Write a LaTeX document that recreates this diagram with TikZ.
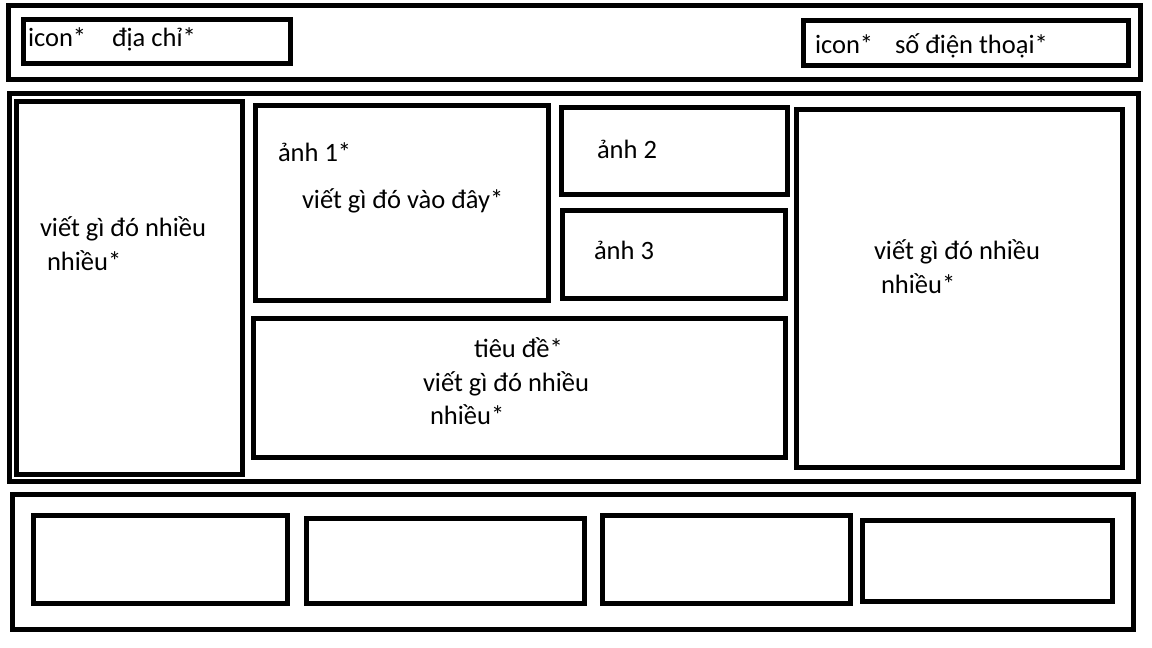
\documentclass[tikz,border=0pt]{standalone}
\usepackage{fontspec}
\setmainfont{Carlito}
\tikzset{
  box/.style={draw=black, line width=5pt, fill=none, inner sep=0pt, outer sep=0pt, anchor=north west},
  lbl/.style={inner sep=0pt, outer sep=0pt, anchor=base west, font=\fontsize{26.5}{32}\selectfont}
}
\newcommand{\wbox}[5]{\node[box, minimum width=#4-#2, minimum height=#5-#3] (#1) at (#2,#3) {};}
\begin{document}
\begin{tikzpicture}[x=1pt,y=-1pt]
\useasboundingbox[fill=white] (0,0) rectangle (1152,648);
% header
\wbox{header}{8}{5}{1140}{79.5}
\wbox{addr}{23}{19.5}{290}{63.5}
\wbox{phone}{803}{20.5}{1128}{65.5}
\node[lbl] (addricon) at (28,46) {icon*};
\node[lbl] (addrtext) at (112,46) {địa chỉ*};
\node[lbl] (phoneicon) at (815,53) {icon*};
\node[lbl] (phonetext) at (895,53) {số điện thoại*};
% main
\wbox{main}{9}{93}{1138.5}{481}
\wbox{leftcol}{16}{101.5}{242}{474.5}
\wbox{img1}{255}{105}{548}{300}
\wbox{img2}{561}{107}{787}{194.5}
\wbox{img3}{562}{210.5}{785}{298.5}
\wbox{title}{253}{318.5}{785}{457}
\wbox{rightcol}{796}{109}{1122}{467}
\node[lbl] (lefta) at (40,236.5) {viết gì đó nhiều};
\node[lbl] (leftb) at (47,270) {nhiều*};
\node[lbl] (img1a) at (278,161.5) {ảnh 1*};
\node[lbl] (img1b) at (302,208) {viết gì đó vào đây*};
\node[lbl] (img2a) at (597,158) {ảnh 2};
\node[lbl] (img3a) at (594,259.5) {ảnh 3};
\node[lbl] (righta) at (874,259.5) {viết gì đó nhiều};
\node[lbl] (rightb) at (881,293) {nhiều*};
\node[lbl] (titlea) at (474,357) {tiêu đề*};
\node[lbl] (titleb) at (423,391.5) {viết gì đó nhiều};
\node[lbl] (titlec) at (430,424) {nhiều*};
% footer
\wbox{footer}{12}{494.5}{1133}{629.5}
\wbox{foot1}{33}{515}{287}{603}
\wbox{foot2}{306}{518}{584}{603.5}
\wbox{foot3}{602}{515}{850}{603}
\wbox{foot4}{862}{520}{1112}{601.5}
\end{tikzpicture}
\end{document}
